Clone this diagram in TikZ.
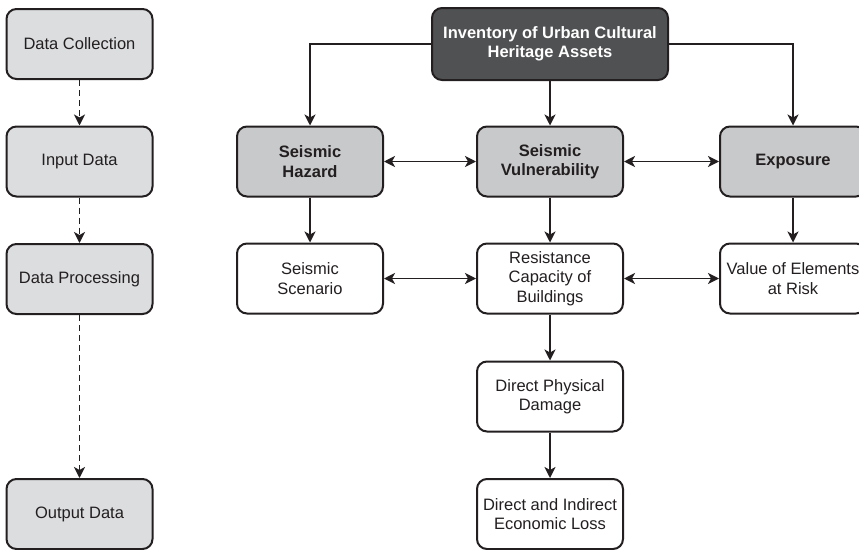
\documentclass[tikz,border=0pt]{standalone}
\usepackage{fontspec}
\setmainfont{Liberation Sans}
\usetikzlibrary{arrows.meta}
\definecolor{lightbox}{HTML}{DCDDDF}
\definecolor{midbox}{HTML}{C8C9CB}
\definecolor{darkbox}{HTML}{505153}
\definecolor{ink}{HTML}{231F20}
\tikzset{
  box/.style={draw=ink, line width=2pt, rounded corners=10pt, minimum width=146pt,
    minimum height=70pt, align=center, text=ink, inner sep=2pt,
    font=\fontsize{16.5}{19.5}\selectfont},
  leftbox/.style={box, fill=lightbox},
  hazbox/.style={box, fill=midbox, font=\fontsize{16.5}{19.5}\selectfont\bfseries},
  topbox/.style={box, fill=darkbox, text=white, minimum width=236pt, minimum height=72pt,
    font=\fontsize{16.5}{19.5}\selectfont\bfseries},
  whitebox/.style={box, fill=white},
  conn/.style={draw=ink, line width=1.8pt, -{Stealth[length=11pt,width=11pt,inset=3pt]}},
  dconn/.style={draw=ink, line width=1.8pt, {Stealth[length=11pt,width=11pt,inset=3pt]}-{Stealth[length=11pt,width=11pt,inset=3pt]}},
  dashconn/.style={conn, dash pattern=on 6pt off 4pt}
}
\begin{document}
\begin{tikzpicture}[x=1pt,y=-1pt]
\useasboundingbox (0,0) rectangle (859,549);
\begin{scope}
\clip (0,0) rectangle (859,549);
% left column
\node[leftbox] (dc) at (79.5,44) {Data Collection};
\node[leftbox] (id) at (79.5,161.5) {Input Data};
\node[leftbox] (dp) at (79.5,279) {Data Processing};
\node[leftbox] (od) at (79.5,514) {Output Data};
% right diagram
\node[topbox] (inv) at (550,44) {Inventory of Urban Cultural\\Heritage Assets};
\node[hazbox] (sh) at (310,161.5) {Seismic\\Hazard};
\node[hazbox] (sv) at (550,161.5) {Seismic\\Vulnerability};
\node[hazbox] (ex) at (793,161.5) {Exposure};
\node[whitebox] (ss) at (310,278.5) {Seismic\\Scenario};
\node[whitebox] (rc) at (550,278.5) {Resistance\\Capacity of\\Buildings};
\node[whitebox] (ve) at (793,278.5) {Value of Elements\\at Risk};
\node[whitebox] (dpd) at (550,396.5) {Direct Physical\\Damage};
\node[whitebox] (del) at (550,514) {Direct and Indirect\\Economic Loss};
\end{scope}
% dashed
\draw[dashconn] (dc) -- (id);
\draw[dashconn] (id) -- (dp);
\draw[dashconn] (dp) -- (od);
% top connections
\draw[conn] (inv.west) -| (sh.north);
\draw[conn] (inv.east) -| (ex.north);
\draw[conn] (inv) -- (sv);
% verticals
\draw[conn] (sh) -- (ss);
\draw[conn] (sv) -- (rc);
\draw[conn] (ex) -- (ve);
\draw[conn] (rc) -- (dpd);
\draw[conn] (dpd) -- (del);
% horizontals
\draw[dconn] (sh) -- (sv);
\draw[dconn] (sv) -- (ex);
\draw[dconn] (ss) -- (rc);
\draw[dconn] (rc) -- (ve);
\end{tikzpicture}
\end{document}
